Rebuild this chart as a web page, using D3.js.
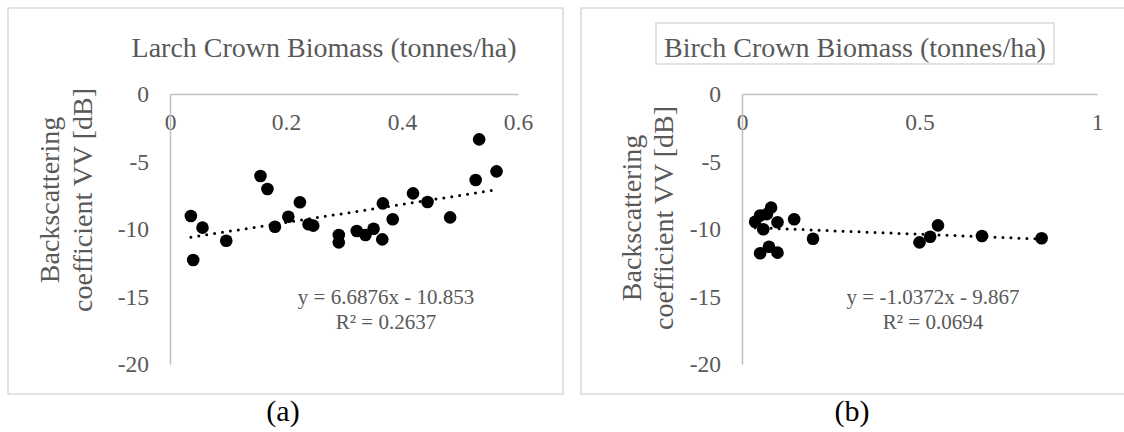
<!DOCTYPE html>
<html>
<head>
<meta charset="utf-8">
<script src="https://cdn.jsdelivr.net/npm/d3@7"></script>
<style>
  body { margin: 0; background: #fff; }
</style>
</head>
<body>
<svg id="chart" width="1124" height="432"></svg>
<script>
// panel (a) larch
var larchX = [0.036, 0.040, 0.056, 0.097, 0.156, 0.168, 0.181, 0.204, 0.224, 0.239, 0.247,
  0.291, 0.291, 0.322, 0.337, 0.351, 0.366, 0.367, 0.384, 0.419, 0.444, 0.483, 0.527, 0.533, 0.563];
var larchY = [-9.04, -12.3, -9.9, -10.87, -6.07, -7.04, -9.83, -9.09, -8.02, -9.65, -9.75,
  -10.44, -10.99, -10.15, -10.44, -9.98, -10.77, -8.10, -9.28, -7.36, -8.0, -9.14, -6.37, -3.36, -5.73];
var larchXTicks = [0, 0.2, 0.4, 0.6];

// panel (b) birch
var birchX = [0.037, 0.051, 0.060, 0.082, 0.070, 0.100, 0.051, 0.076, 0.100, 0.147, 0.200,
  0.500, 0.530, 0.552, 0.676, 0.844];
var birchY = [-9.46, -9.0, -10.02, -8.42, -8.9, -9.5, -11.8, -11.31, -11.75, -9.28, -10.72,
  -10.99, -10.57, -9.73, -10.52, -10.69];
var birchXTicks = [0, 0.5, 1];

var yTicks = [0, -5, -10, -15, -20];
var fitSlope = [6.6876, -1.0372];
var fitIntercept = [-10.853, -9.867];
var fitEquation = ["y = 6.6876x - 10.853", "y = -1.0372x - 9.867"];
var fitR2 = ["R² = 0.2637", "R² = 0.0694"];
var titles = ["Larch Crown Biomass (tonnes/ha)", "Birch Crown Biomass (tonnes/ha)"];
var captions = ["(a)", "(b)"];

var grey = "#595959";
var serif = "'Liberation Serif', 'Times New Roman', 'DejaVu Serif', serif";
var svg = d3.select("#chart");

var panels = [
  { xs: larchX, ys: larchY, ticks: larchXTicks, xMax: 0.6,
    frameX: 8, frameW: 555, axisX: [170, 518], titleX: 324, box: false,
    yTitleX: [59, 92], yTitleY: 200, eqX: 386, capX: 283 },
  { xs: birchX, ys: birchY, ticks: birchXTicks, xMax: 1,
    frameX: 581, frameW: 560, axisX: [742, 1097], titleX: 855, box: true,
    yTitleX: [641, 673], yTitleY: 218, eqX: 933, capX: 852 }
];

panels.forEach(function(p, i) {
  var g = svg.append("g");

  g.append("rect")
    .attr("x", p.frameX).attr("y", 8)
    .attr("width", p.frameW).attr("height", 386)
    .attr("fill", "#fff").attr("stroke", "#d9d9d9").attr("stroke-width", 1.5);

  var x = d3.scaleLinear().domain([0, p.xMax]).range(p.axisX);
  var y = d3.scaleLinear().domain([-20, 0]).range([364, 94]);

  // x axis sits at y = 0 (top)
  var xa = g.append("g")
    .attr("transform", "translate(0," + y(0) + ")")
    .call(d3.axisBottom(x).tickValues(p.ticks).tickSize(0).tickPadding(19)
      .tickFormat(function(d) { return String(d); }));
  var ya = g.append("g")
    .attr("transform", "translate(" + x(0) + ",0)")
    .call(d3.axisLeft(y).tickValues(yTicks).tickSize(0).tickPadding(21)
      .tickFormat(function(d) { return String(d); }));
  [xa, ya].forEach(function(a) {
    a.attr("font-family", null).attr("font-size", null);
    a.select(".domain").attr("stroke", "#bfbfbf").attr("stroke-width", 1.5);
    a.selectAll("text").attr("fill", grey)
      .style("font-family", serif).style("font-size", "23.5px");
  });

  // title
  if (p.box) {
    g.append("rect")
      .attr("x", p.titleX - 199).attr("y", 23)
      .attr("width", 398).attr("height", 41)
      .attr("fill", "#fff").attr("stroke", "#d9d9d9").attr("stroke-width", 1.5);
  }
  g.append("text")
    .attr("x", p.titleX).attr("y", 57)
    .attr("text-anchor", "middle")
    .attr("fill", grey)
    .style("font-family", serif).style("font-size", "28px")
    .text(titles[i]);

  // y axis title, two lines
  ["Backscattering", "coefficient VV [dB]"].forEach(function(t, k) {
    g.append("text")
      .attr("transform", "translate(" + p.yTitleX[k] + "," + p.yTitleY + ") rotate(-90)")
      .attr("text-anchor", "middle")
      .attr("fill", grey)
      .style("font-family", serif).style("font-size", "28px")
      .text(t);
  });

  // points
  var pts = p.xs.map(function(v, k) { return [v, p.ys[k]]; });
  g.selectAll("circle.pt").data(pts).enter().append("circle")
    .attr("class", "pt")
    .attr("cx", function(d) { return x(d[0]); })
    .attr("cy", function(d) { return y(d[1]); })
    .attr("r", 6.3)
    .attr("fill", "#000");

  // trend line
  var ext = d3.extent(p.xs);
  var line = d3.line()
    .x(function(d) { return x(d); })
    .y(function(d) { return y(fitSlope[i] * d + fitIntercept[i]); });
  g.append("path")
    .attr("d", line(ext))
    .attr("fill", "none")
    .attr("stroke", "#000")
    .attr("stroke-width", 3)
    .attr("stroke-linecap", "round")
    .attr("stroke-dasharray", "0 8");

  // equation label
  [fitEquation[i], fitR2[i]].forEach(function(t, k) {
    g.append("text")
      .attr("x", p.eqX).attr("y", 304 + k * 25)
      .attr("text-anchor", "middle")
      .attr("fill", grey)
      .style("font-family", serif).style("font-size", "21px")
      .text(t);
  });

  // caption
  svg.append("text")
    .attr("x", p.capX).attr("y", 421)
    .attr("text-anchor", "middle")
    .attr("fill", "#000")
    .style("font-family", serif).style("font-size", "30px")
    .text(captions[i]);
});
</script>
</body>
</html>
